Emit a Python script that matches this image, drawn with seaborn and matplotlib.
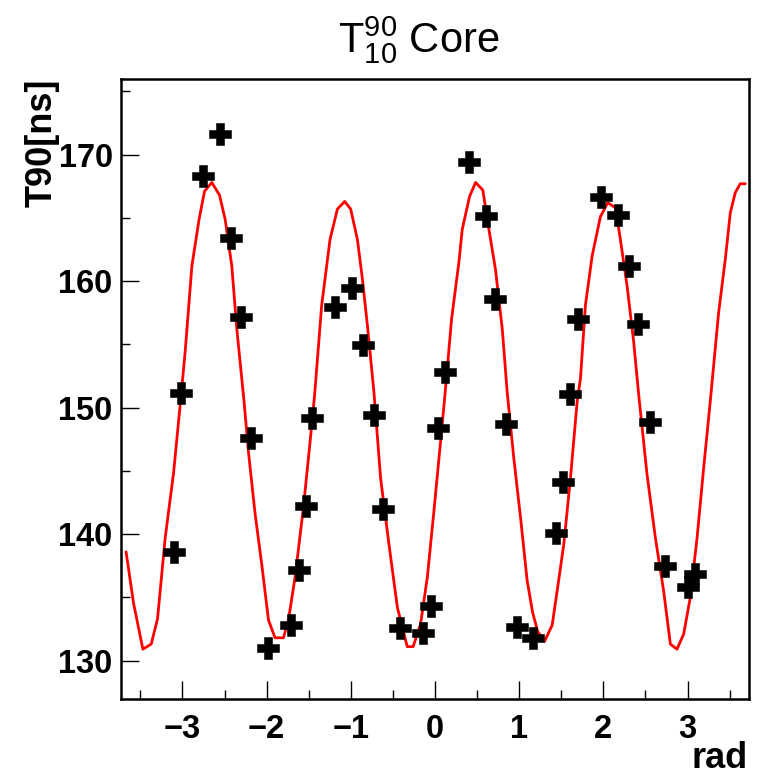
import matplotlib
matplotlib.use("Agg")
import matplotlib.pyplot as plt
from matplotlib.ticker import MultipleLocator
import seaborn as sns
import pandas as pd

# Measured data points (rad, T90 [ns])
data_x = [-3.098, -3.023, -2.750, -2.553, -2.422, -2.307, -2.185, -1.987, -1.710, -1.615,
          -1.536, -1.456, -1.188, -0.986, -0.855, -0.725, -0.614, -0.420, -0.139, -0.044,
          0.035, 0.114, 0.407, 0.600, 0.711, 0.838, 0.976, 1.162, 1.435, 1.518,
          1.601, 1.696, 1.977, 2.171, 2.301, 2.412, 2.550, 2.737, 3.006, 3.092]
data_y = [138.57, 151.17, 168.33, 171.63, 163.41, 157.20, 147.58, 130.99, 132.80, 137.18,
          142.21, 149.15, 157.99, 159.45, 154.97, 149.39, 142.00, 132.56, 132.15, 134.29,
          148.42, 152.82, 169.41, 165.14, 158.62, 148.73, 132.64, 131.81, 140.06, 144.15,
          151.04, 157.01, 166.64, 165.25, 161.16, 156.57, 148.87, 137.49, 135.79, 136.86]

# Fit curve
fit_x = [-3.67, -3.58, -3.470, -3.371, -3.296, -3.205, -3.106, -3.023, -2.968, -2.888,
         -2.802, -2.738, -2.651, -2.560, -2.493, -2.414, -2.354, -2.27, -2.216, -2.137,
         -2.058, -1.978, -1.90, -1.80, -1.741, -1.662, -1.563, -1.484, -1.43, -1.346,
         -1.247, -1.159, -1.073, -1.002, -0.922, -0.863, -0.803, -0.725, -0.646, -0.547,
         -0.447, -0.33, -0.26, -0.171, -0.091, -0.013, 0.066, 0.118, 0.197, 0.284,
         0.324, 0.411, 0.482, 0.568, 0.640, 0.719, 0.799, 0.858, 0.936, 1.016,
         1.095, 1.16, 1.22, 1.300, 1.392, 1.451, 1.530, 1.609, 1.689, 1.728,
         1.787, 1.867, 1.965, 2.052, 2.143, 2.202, 2.282, 2.360, 2.420, 2.519,
         2.618, 2.716, 2.796, 2.875, 2.954, 3.033, 3.113, 3.191, 3.270, 3.369,
         3.448, 3.508, 3.567, 3.626, 3.686]
fit_y = [138.6, 134.5, 130.9, 131.3, 133.3, 139.7, 144.8, 150.5, 154.4, 161.2,
         164.9, 167.1, 167.8, 166.8, 164.9, 161.2, 156.2, 150.6, 146.5, 141.6,
         137.6, 133.2, 131.8, 131.8, 133.2, 136.6, 142.1, 147.3, 151.0, 158.1,
         163.3, 165.7, 166.3, 165.7, 163.3, 160.2, 156.5, 151.2, 144.4, 139.2,
         134.2, 131.1, 131.1, 132.9, 136.6, 141.8, 147.3, 151.0, 157.0, 161.5,
         164.1, 166.7, 167.8, 167.2, 164.1, 160.9, 156.2, 151.2, 146.0, 141.3,
         136.3, 133.8, 132.3, 131.5, 132.8, 135.5, 139.2, 144.4, 150.5, 152.3,
         158.1, 162.0, 165.1, 166.2, 165.8, 163.3, 159.6, 155.2, 151.0, 144.7,
         139.7, 135.5, 131.3, 130.9, 132.1, 135.0, 139.7, 145.2, 150.5, 157.5,
         161.7, 165.4, 167.0, 167.7, 167.7]

x_ticks = [-3, -2, -1, 0, 1, 2, 3]
y_ticks = [130, 140, 150, 160, 170]

sns.set_theme(style="white")
plt.rcParams['font.family'] = ['Liberation Sans', 'DejaVu Sans']
plt.rcParams['axes.unicode_minus'] = True
plt.rcParams['text.color'] = 'black'
plt.rcParams['xtick.color'] = 'black'
plt.rcParams['ytick.color'] = 'black'
plt.rcParams['axes.labelcolor'] = 'black'

fig = plt.figure(figsize=(7.61, 7.74), dpi=100)
ax = fig.add_axes([121/761, 1 - 699/774, (749 - 121)/761, (699 - 79)/774])

df_pts = pd.DataFrame({"x": data_x, "y": data_y})
df_fit = pd.DataFrame({"x": fit_x, "y": fit_y})

sns.lineplot(data=df_fit, x="x", y="y", ax=ax, color="#ff0000", linewidth=2.0,
             sort=False, estimator=None, zorder=2)
sns.scatterplot(data=df_pts, x="x", y="y", ax=ax, marker="P", s=230, color="black",
                edgecolor="black", linewidth=0.4, zorder=3)

ax.set_xlim(-3.73, 3.73)
ax.set_ylim(126.96, 175.98)
ax.set_xticks(x_ticks)
ax.set_yticks(y_ticks)
ax.xaxis.set_minor_locator(MultipleLocator(0.5))
ax.yaxis.set_minor_locator(MultipleLocator(5))
ax.tick_params(axis="both", which="major", direction="in", length=13, width=1.0,
               color="black", labelsize=23.5, labelcolor="black")
ax.tick_params(axis="x", which="major", pad=11)
ax.tick_params(axis="y", which="major", pad=6)
ax.tick_params(axis="both", which="minor", direction="in", length=6.5, width=1.0,
               color="black")
ax.tick_params(axis="x", which="both", bottom=True, top=False)
ax.tick_params(axis="y", which="both", left=True, right=False)
for lab in ax.get_xticklabels() + ax.get_yticklabels():
    lab.set_fontweight("bold")

for sp in ax.spines.values():
    sp.set_visible(True)
    sp.set_color("black")
    sp.set_linewidth(1.8)

ax.set_xlabel("")
ax.set_ylabel("")
fig.text(748/761, 1 - 758/774, "rad", ha="right", va="center", fontsize=26,
         fontweight="bold", color="black")
fig.text(42/761, 1 - 79/774, "T90[ns]", ha="center", va="top", rotation=90,
         fontsize=26, fontweight="bold", color="black")
fig.text(0.550, 1 - 40/774, r"$\mathregular{T^{90}_{10}}$ Core", ha="center",
         va="center", fontsize=30, color="black")

fig.savefig("out.png", dpi=100)
